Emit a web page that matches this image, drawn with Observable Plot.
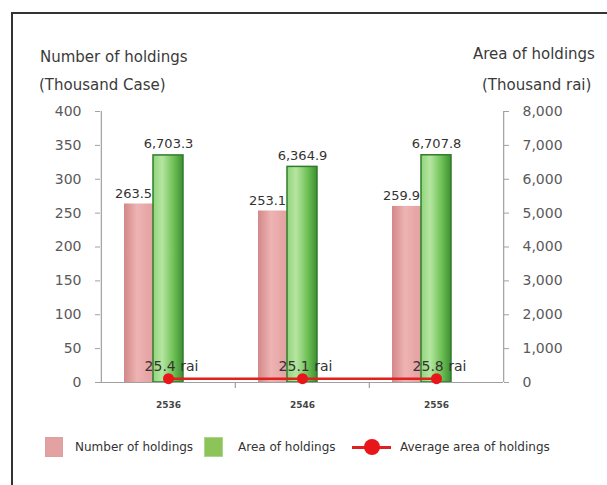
<!DOCTYPE html>
<html><head><meta charset="utf-8">
<script src="https://cdn.jsdelivr.net/npm/d3@7"></script>
<script src="https://cdn.jsdelivr.net/npm/@observablehq/plot@0.6"></script>
<style>
body{margin:0;background:#fff;}
#wrap{position:relative;width:607px;height:485px;overflow:hidden;font-family:"DejaVu Sans",sans-serif;background:#fff;}
.t{position:absolute;white-space:nowrap;line-height:1;color:#3a3a3a;}
.border{position:absolute;left:11px;top:12px;width:700px;height:600px;border-left:2px solid #333;border-top:2px solid #333;}
.sw{position:absolute;}
</style></head><body><div id="wrap"><div class="border"></div></div>
<script>
const years = ["2536", "2546", "2556"];
const numberHoldings = [263.5, 253.1, 259.9];
const areaHoldings = [6703.3, 6364.9, 6707.8];
const avgArea = [25.4, 25.1, 25.8];
const leftTicks = [0, 50, 100, 150, 200, 250, 300, 350, 400];
const rightTicks = [0, 1000, 2000, 3000, 4000, 5000, 6000, 7000, 8000];
const ratio = 8000 / 400;

const data = years.map((y, i) => ({year: y, number: numberHoldings[i], area: areaHoldings[i], avg: avgArea[i]}));
const fmt = d3.format(",.1f");
const xRange = [100, 503];
const half = (xRange[1] - xRange[0]) / years.length / 2;

const svg = Plot.plot({
  width: 607, height: 485,
  marginLeft: 100, marginRight: 104, marginTop: 111, marginBottom: 103,
  style: {fontFamily: "DejaVu Sans, sans-serif", background: "transparent", overflow: "visible"},
  x: {domain: years, padding: 0, axis: null, label: null},
  y: {domain: [0, 400], axis: null, label: null},
  marks: [
    Plot.barY(data, {x: "year", y: "number", fill: "#e6a3a3", insetLeft: 23, insetRight: 82}),
    Plot.barY(data, {x: "year", y: d => d.area / ratio, fill: "#7cc86a", stroke: "#2f7d2a", strokeWidth: 1.5, insetLeft: 52, insetRight: 52}),
    Plot.ruleY([0], {stroke: "#a0a0a0", strokeWidth: 1.2}),
    Plot.ruleX([years[0]], {x: d => d, y1: 0, y2: 400, dx: -half, stroke: "#a0a0a0", strokeWidth: 1.2}),
    Plot.ruleX([years[years.length - 1]], {x: d => d, y1: 0, y2: 400, dx: half, stroke: "#a0a0a0", strokeWidth: 1.2}),
    Plot.ruleX(years.slice(1), {x: d => d, y1: 0, y2: 0, dx: -half, insetBottom: -6, stroke: "#a0a0a0", strokeWidth: 1.2}),
    Plot.axisY(leftTicks, {anchor: "left", label: null, tickSize: 5, tickPadding: 14, fontSize: 14, fill: "#5a5a5a", stroke: "#a0a0a0", tickFormat: d => String(d)}),
    Plot.axisY(rightTicks.map(v => v / ratio), {anchor: "right", label: null, tickSize: 5, tickPadding: 14, fontSize: 14, fill: "#5a5a5a", stroke: "#a0a0a0", tickFormat: (d, i) => d3.format(",")(rightTicks[i])}),
    Plot.axisX({label: null, tickSize: 0, tickPadding: 19, fontSize: 9, fontWeight: "bold", fill: "#444"}),
    Plot.text(data, {x: "year", y: "number", text: d => fmt(d.number), dx: -35, dy: -6, lineAnchor: "bottom", fontSize: 13, fill: "#333"}),
    Plot.text(data, {x: "year", y: d => d.area / ratio, text: d => fmt(d.area), dy: -7, lineAnchor: "bottom", fontSize: 13, fill: "#333"}),
    Plot.line(data, {x: "year", y: d => d.avg / ratio, stroke: "#e0201c", strokeWidth: 2.5, dy: -3}),
    Plot.dot(data, {x: "year", y: d => d.avg / ratio, r: 5.5, fill: "#e8161b", stroke: "none", dy: -3}),
    Plot.text(data, {x: "year", y: d => d.avg / ratio, text: d => d.avg.toFixed(1) + " rai", dx: 3, dy: -11, lineAnchor: "bottom", fontSize: 14, fill: "#333"})
  ]
});

// gradients for the bar look
const defs = d3.select(svg).insert("defs", ":first-child");
const g1 = defs.append("linearGradient").attr("id", "gPink").attr("x1", 0).attr("x2", 1).attr("y1", 0).attr("y2", 0);
[["0%", "#d28888"], ["45%", "#eeb3b3"], ["100%", "#e4a0a0"]].forEach(([o, c]) => g1.append("stop").attr("offset", o).attr("stop-color", c));
const g2 = defs.append("linearGradient").attr("id", "gGreen").attr("x1", 0).attr("x2", 1).attr("y1", 0).attr("y2", 0);
[["0%", "#8fd47a"], ["30%", "#b6e6a2"], ["70%", "#6cbf52"], ["100%", "#3e8e34"]].forEach(([o, c]) => g2.append("stop").attr("offset", o).attr("stop-color", c));
const barGroups = svg.querySelectorAll('g[aria-label="bar"]');
if (barGroups[0]) { barGroups[0].setAttribute("fill", "url(#gPink)"); barGroups[0].querySelectorAll("rect").forEach(r => r.setAttribute("fill", "url(#gPink)")); }
if (barGroups[1]) { barGroups[1].setAttribute("fill", "url(#gGreen)"); barGroups[1].querySelectorAll("rect").forEach(r => r.setAttribute("fill", "url(#gGreen)")); }
svg.style.position = "absolute";
svg.style.left = "0px";
svg.style.top = "0px";

const wrap = document.getElementById("wrap");
wrap.appendChild(svg);

function addText(txt, left, top, size, color) {
  const d = document.createElement("div");
  d.className = "t";
  d.textContent = txt;
  d.style.left = left + "px";
  d.style.top = top + "px";
  d.style.fontSize = size + "px";
  if (color) d.style.color = color;
  wrap.appendChild(d);
  return d;
}
addText("Number of holdings", 40, 50, 15);
addText("(Thousand Case)", 39, 78, 15);
addText("Area of holdings", 473, 47, 15);
addText("(Thousand rai)", 482, 78, 15);

// legend
function sw(left, top, w, h, bg, border) {
  const d = document.createElement("div");
  d.className = "sw";
  Object.assign(d.style, {left: left + "px", top: top + "px", width: w + "px", height: h + "px", background: bg, border: border || "none", boxSizing: "border-box"});
  wrap.appendChild(d);
}
sw(45, 437, 18, 20, "#e3a1a1", "1px solid #dba0a0");
addText("Number of holdings", 75, 441, 12, "#333");
sw(204, 437, 19, 20, "#8cc45a", "1px solid #a8d88a");
addText("Area of holdings", 238, 441, 12, "#333");
sw(352, 446, 39, 3, "#e0201c");
const c = document.createElement("div");
Object.assign(c.style, {position: "absolute", left: "364px", top: "439px", width: "16px", height: "16px", borderRadius: "50%", background: "#e8161b"});
wrap.appendChild(c);
addText("Average area of holdings", 400, 441, 12, "#333");
</script>
</body></html>
